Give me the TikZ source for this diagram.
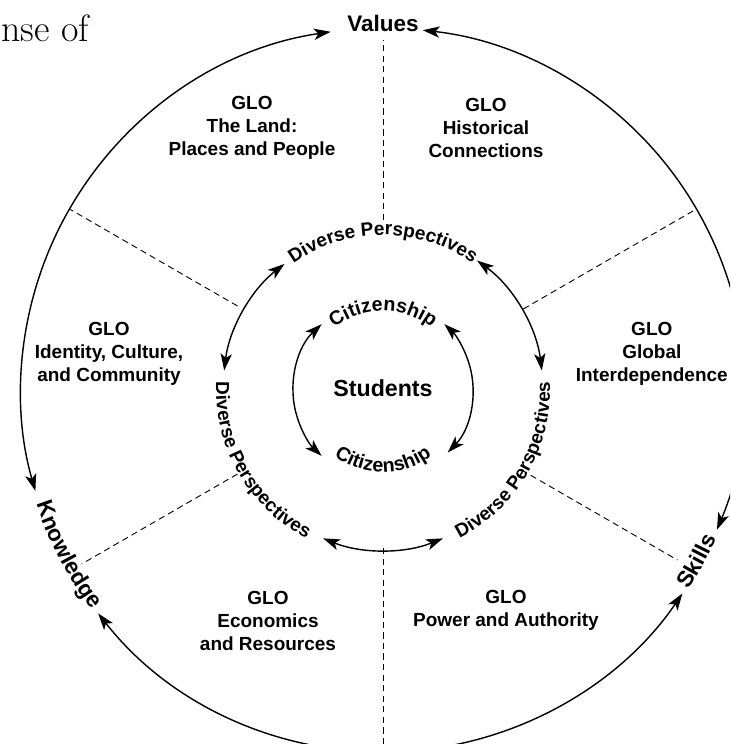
\documentclass[tikz,border=0pt]{standalone}
\usepackage{fontspec}
\setsansfont{Liberation Sans}
\usetikzlibrary{arrows.meta, decorations.text}

\newcommand\ringfont{\sffamily\bfseries\fontsize{13.5}{13.5}\selectfont}
\newcommand\citfont{\sffamily\bfseries\fontsize{14}{14}\selectfont}
\newcommand\polefont{\sffamily\bfseries\fontsize{16}{16}\selectfont}

\begin{document}
\begin{tikzpicture}[
		ring/.style={line width=1pt, {Stealth[length=12pt,width=8pt,inset=3pt]}-{Stealth[length=12pt,width=8pt,inset=3pt]}},
		divider/.style={line width=0.65pt, dash pattern=on 4.5pt off 3pt},
		glo/.style={font=\sffamily\bfseries\fontsize{13.5}{16.5}\selectfont, align=center},
		curved/.style={decorate, decoration={text along path, text align=center, text={#1}}}
	]
		\def\R{9.05};
		\def\Rt{9.12};
		\def\rm{4.0};
		\def\rt{3.875};
		\def\rb{4.175};
		\def\ri{2.25};
		
		\useasboundingbox (-9.575,-8.85) rectangle (8.675,9.75);
		\clip (-9.575,-8.85) rectangle (8.675,9.75);
		
		\coordinate (O) at (0,0);
		
		\node [anchor=base west, inner sep=0pt, font=\fontsize{27}{27}\selectfont] (page) at (-9.55,8.7) {nse of};
		
		% sector dividers
		\begin{scope}[divider]
			\draw (90:4.25) -- (90:8.75);
			\draw (30:4.05) -- (30:8.95);
			\draw (150:4.2) -- (150:9.05);
			\draw (210:4.2) -- (210:8.7);
			\draw (270:3.95) -- (270:9.4);
			\draw (330:4.0) -- (330:8.5);
		\end{scope}
		
		% outer ring
		\draw [ring] (98.3:\R) arc [start angle=98.3, end angle=196.2, radius=\R];
		\draw [ring] (218.1:\R) arc [start angle=218.1, end angle=325.8, radius=\R];
		\draw [ring] (337.3:\R) arc [start angle=337.3, end angle=443.7, radius=\R];
		
		\node [font=\polefont] (values) at (0,9.175) {Values};
		\path [curved={|\polefont|Knowledge}] (187.6:\Rt) arc [start angle=187.6, end angle=227.6, radius=\Rt];
		\path [curved={|\polefont|Skills}] (311.4:\Rt) arc [start angle=311.4, end angle=351.4, radius=\Rt];
		
		% middle ring
		\draw [ring] (128:\rm) arc [start angle=128, end angle=173, radius=\rm];
		\draw [ring] (7:\rm) arc [start angle=7, end angle=54, radius=\rm];
		\draw [ring] (248:\rm) arc [start angle=248, end angle=292, radius=\rm];
		
		\path [curved={|\ringfont|Diverse Perspectives}] (130:\rt) arc [start angle=130, end angle=50, radius=\rt];
		\path [curved={|\ringfont|Diverse Perspectives}] (170:\rb) arc [start angle=170, end angle=250, radius=\rb];
		\path [curved={|\ringfont|Diverse Perspectives}] (290:\rb) arc [start angle=290, end angle=370, radius=\rb];
		
		% inner ring
		\draw [ring] (133:\ri) arc [start angle=133, end angle=227, radius=\ri];
		\draw [ring] (-44:\ri) arc [start angle=-44, end angle=47, radius=\ri];
		
		\path [curved={|\citfont|Citizenship}] (135:1.975) arc [start angle=135, end angle=45, radius=1.975];
		\path [curved={|\citfont|Citizenship}] (225:2.05) arc [start angle=225, end angle=315, radius=2.05];
		
		\node [font=\sffamily\bfseries\fontsize{16.5}{16.5}\selectfont] (students) at (0,0.05) {Students};
		
		% learning outcomes
		\node [glo] (land) at (-3.275,6.55) {GLO\\The Land:\\Places and People};
		\node [glo] (history) at (2.575,6.55) {GLO\\Historical\\Connections};
		\node [glo] (identity) at (-6.85,0.9) {GLO\\Identity, Culture,\\and Community};
		\node [glo] (global) at (6.72,0.9) {GLO\\Global\\Interdependence};
		\node [glo] (economics) at (-2.875,-5.775) {GLO\\Economics\\and Resources};
		\node [glo] (power) at (3.075,-5.5) {GLO\\Power and Authority};
	\end{tikzpicture}
\end{document}
